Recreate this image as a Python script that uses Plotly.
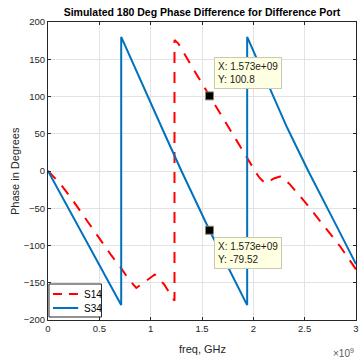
import plotly.graph_objects as go

# ---------------- data (frequencies in GHz, phases in degrees) ----------------
s14_freq_ghz = [0.0, 0.12, 0.25, 0.37, 0.50, 0.61, 0.71, 0.79, 0.86, 0.95, 1.04, 1.13, 1.232,
                1.232, 1.27, 1.45, 1.573, 1.77, 1.95, 2.03, 2.06, 2.12, 2.20, 2.27, 2.35, 2.50,
                2.69, 2.85, 3.0]
s14_phase = [0.0, -17, -41, -65, -90, -112, -130, -146, -157, -148, -139, -152, -174,
             176, 171, 129, 100.8, 55, 14, -3, -9, -17, -10, -7, -17, -41,
             -74, -102, -132]

s34_freq_ghz = [0.0, 0.40, 0.713,
                0.713, 0.97, 1.135, 1.30, 1.573, 1.94,
                1.94, 2.33, 2.535, 2.80, 3.0]
s34_phase = [0.0, -100, -180,
             180, 100, 50, 0, -79.52, -180,
             180, 58, 0, -71, -125]

tip_freq_hz = [1.573e9, 1.573e9]
tip_phase = [100.8, -79.52]

x_tick_vals_ghz = [0, 0.5, 1, 1.5, 2, 2.5, 3]
x_tick_text = ["0", "0.5", "1", "1.5", "2", "2.5", "3"]
y_tick_vals = [-200, -150, -100, -50, 0, 50, 100, 150, 200]

series_names = ["S14", "S34"]
series_colors = ["#FF0000", "#0072BD"]
series_dash = ["11px,9px", "solid"]
legend_dash = ["9px,7px", "solid"]

title_text = "Simulated 180 Deg Phase Difference for Difference Port"
x_label = "freq, GHz"
y_label = "Phase in Degrees"

# ---------------- figure ----------------
AX = "#262626"
FONT = "Liberation Sans, Arial, Helvetica, sans-serif"
W, H = 360, 362
ML, MR, MT, MB = 48, 1, 22, 42
PW, PH = W - ML - MR, H - MT - MB


def px_to_paper_x(px):
    return (px - ML) / PW


def px_to_paper_y(py):
    return (H - MB - py) / PH


fig = go.Figure()
fig.add_trace(go.Scatter(
    x=[f * 1e9 for f in s14_freq_ghz], y=s14_phase, mode="lines", name=series_names[0],
    line=dict(color=series_colors[0], width=2, dash=series_dash[0]), showlegend=False,
))
fig.add_trace(go.Scatter(
    x=[f * 1e9 for f in s34_freq_ghz], y=s34_phase, mode="lines", name=series_names[1],
    line=dict(color=series_colors[1], width=2, dash=series_dash[1]), showlegend=False,
))
fig.add_trace(go.Scatter(
    x=tip_freq_hz, y=tip_phase, mode="markers", showlegend=False, hoverinfo="skip",
    marker=dict(symbol="square", size=8, color="black", line=dict(color="#8c8c70", width=1)),
))

annotations = []
for i, (fx, py) in enumerate(zip(tip_freq_hz, tip_phase)):
    txt = "X: %.3e<br>Y: %s" % (fx, ("%.4g" % py))
    above = i == 0
    annotations.append(dict(
        x=fx, y=py, xref="x", yref="y", text=txt, showarrow=False, align="left",
        xanchor="left", yanchor="bottom" if above else "top",
        xshift=5, yshift=7 if above else -7,
        bgcolor="#FFFFE1", bordercolor="#C8C8B4", borderwidth=1, borderpad=3,
        font=dict(family=FONT, size=10, color="#1a1a1a"),
    ))

annotations.append(dict(
    x=0.5, y=0, xref="paper", yref="paper", text=x_label, showarrow=False,
    xanchor="center", yanchor="top", yshift=-21,
    font=dict(family=FONT, size=11, color=AX),
))
annotations.append(dict(
    x=0, y=0.5, xref="paper", yref="paper", text=y_label, showarrow=False,
    textangle=-90, xanchor="center", yanchor="middle", xshift=-33,
    font=dict(family=FONT, size=11, color=AX),
))
annotations.append(dict(
    x=1, y=0, xref="paper", yref="paper", text="×10<sup>9</sup>", showarrow=False,
    xanchor="right", yanchor="bottom", yshift=-41, xshift=0,
    font=dict(family=FONT, size=10, color="#595959"),
))

# legend box (drawn like the MATLAB legend)
shapes = [dict(
    type="rect", xref="paper", yref="paper",
    x0=px_to_paper_x(49), x1=px_to_paper_x(102), y0=px_to_paper_y(317), y1=px_to_paper_y(284),
    line=dict(color=AX, width=1), fillcolor="white", layer="above",
)]
legend_rows_px = [294, 308]
for name, col, dsh, ry in zip(series_names, series_colors, legend_dash, legend_rows_px):
    shapes.append(dict(
        type="line", xref="paper", yref="paper",
        x0=px_to_paper_x(53), x1=px_to_paper_x(78.5), y0=px_to_paper_y(ry), y1=px_to_paper_y(ry),
        line=dict(color=col, width=2, dash=dsh), layer="above",
    ))
    annotations.append(dict(
        x=px_to_paper_x(82), y=px_to_paper_y(ry), xref="paper", yref="paper", text=name,
        showarrow=False, xanchor="left", yanchor="middle",
        font=dict(family=FONT, size=10, color="black"),
    ))

fig.update_layout(
    width=W, height=H,
    margin=dict(l=ML, r=MR, t=MT, b=MB),
    paper_bgcolor="white", plot_bgcolor="white",
    title=dict(text="<b>" + title_text + "</b>", x=0.5, xref="paper", xanchor="center",
               y=1 - 12 / H, yanchor="middle",
               font=dict(family=FONT, size=10.5, color="black")),
    font=dict(family=FONT, size=9.5, color=AX),
    showlegend=False,
    annotations=annotations,
    shapes=shapes,
)
fig.update_xaxes(
    range=[0, 3e9], tickvals=[v * 1e9 for v in x_tick_vals_ghz], ticktext=x_tick_text,
    showgrid=True, gridcolor="#E3E3E3", gridwidth=1, zeroline=False,
    showline=True, linecolor=AX, linewidth=1, mirror="ticks",
    ticks="inside", ticklen=3, tickcolor=AX, ticklabeloverflow="allow",
    tickfont=dict(family=FONT, size=9.5, color=AX),
)
fig.update_yaxes(
    range=[-200, 200], tickvals=y_tick_vals,
    showgrid=True, gridcolor="#E3E3E3", gridwidth=1, zeroline=False,
    showline=True, linecolor=AX, linewidth=1, mirror="ticks",
    ticks="inside", ticklen=3, tickcolor=AX,
    tickfont=dict(family=FONT, size=9.5, color=AX),
)

fig.write_html("out.html")
